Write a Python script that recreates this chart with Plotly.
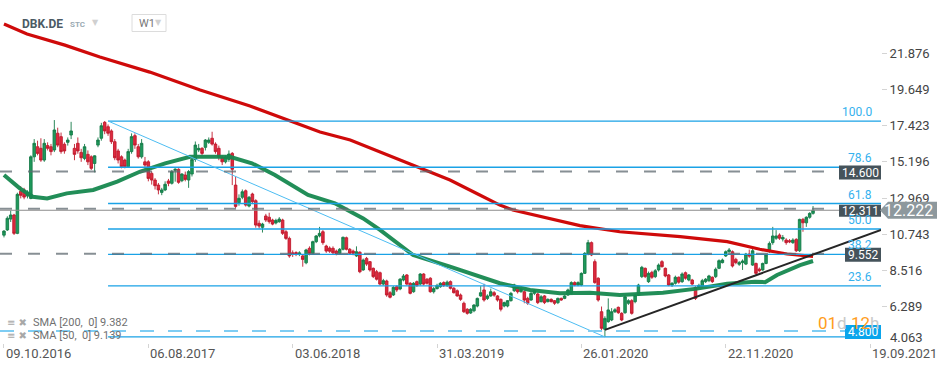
import plotly.graph_objects as go
import pandas as pd

# ---------------- data (weekly candles) ----------------
start_date = "2016-10-09"
open_ = [10.69, 11.01, 11.68, 11.93, 10.80, 13.39, 13.47, 13.10, 12.95, 15.51,
         16.13, 16.03, 15.31, 16.20, 16.13, 15.93, 16.96, 16.75, 16.28, 16.40,
         16.85, 16.03, 16.34, 15.78, 15.41, 15.66, 15.51, 15.10, 16.23, 16.65,
         17.63, 17.36, 17.10, 16.44, 15.87, 15.51, 15.31, 14.90, 15.83, 16.81,
         16.13, 15.51, 15.20, 15.20, 14.49, 14.08, 13.77, 13.32, 13.47, 14.02,
         13.88, 14.68, 14.74, 14.04, 14.39, 14.08, 14.45, 15.35, 15.93, 16.03,
         16.09, 16.40, 16.65, 16.29, 16.03, 15.48, 15.20, 15.35, 15.72, 13.77,
         12.69, 13.02, 13.42, 12.48, 13.22, 12.81, 11.42, 11.17, 11.87, 11.79,
         11.62, 11.44, 11.52, 11.62, 10.90, 10.49, 9.60, 9.62, 9.50, 9.41,
         8.99, 9.88, 9.57, 10.29, 10.64, 10.90, 10.02, 9.90, 9.88, 9.71,
         9.57, 9.82, 10.53, 9.82, 9.71, 9.41, 9.64, 8.55, 9.26, 9.06,
         8.65, 8.44, 8.38, 7.68, 7.87, 7.15, 7.01, 7.52, 7.38, 7.93,
         8.24, 7.73, 7.21, 7.83, 7.68, 8.30, 7.98, 8.04, 7.21, 7.40,
         7.52, 7.77, 7.60, 7.83, 7.42, 7.27, 7.01, 6.50, 6.13, 5.90,
         6.04, 6.33, 6.95, 7.32, 6.80, 6.95, 7.15, 6.95, 6.74, 6.33,
         6.33, 6.66, 7.27, 7.48, 7.21, 7.21, 6.80, 6.70, 7.11, 7.07,
         6.60, 6.95, 6.60, 6.74, 6.66, 6.54, 6.80, 6.80, 7.01, 7.11,
         7.77, 7.62, 7.62, 8.34, 9.53, 10.23, 9.06, 8.04, 5.98, 4.90,
         5.37, 5.47, 5.98, 6.25, 5.88, 5.92, 6.50, 6.66, 6.60, 7.01,
         8.14, 8.65, 7.83, 8.40, 8.14, 8.55, 9.06, 8.65, 8.24, 7.62,
         7.73, 8.10, 7.83, 8.38, 7.93, 7.93, 7.48, 7.50, 7.56, 7.83,
         7.89, 8.10, 8.14, 8.65, 9.00, 9.41, 9.67, 9.67, 9.20, 8.90,
         9.00, 8.91, 9.53, 8.85, 8.95, 8.60, 8.55, 8.95, 9.67, 10.23,
         10.50, 10.70, 10.45, 10.39, 10.35, 10.23, 10.43, 9.73, 11.66, 11.45,
         11.79, 12.03]
high = [11.00, 11.85, 12.20, 12.00, 13.30, 13.70, 13.60, 13.45, 15.60, 16.60,
        16.50, 16.65, 16.60, 16.40, 16.30, 17.77, 17.30, 17.00, 16.40, 16.70,
        17.66, 16.30, 16.70, 16.00, 16.30, 15.90, 15.60, 15.60, 16.70, 17.60,
        17.71, 17.50, 17.20, 16.60, 16.00, 15.60, 15.40, 16.00, 16.95, 16.95,
        16.30, 16.60, 15.50, 15.30, 14.60, 14.20, 13.90, 13.60, 14.00, 14.15,
        14.70, 14.80, 14.80, 14.50, 14.60, 14.70, 15.45, 16.45, 16.30, 16.10,
        16.60, 16.70, 17.05, 16.40, 16.20, 15.60, 15.60, 15.90, 15.80, 14.30,
        13.20, 13.50, 13.50, 13.10, 13.30, 12.90, 11.60, 11.45, 12.00, 12.07,
        11.70, 11.70, 11.80, 11.70, 11.00, 10.60, 9.75, 9.70, 9.70, 9.50,
        9.85, 10.00, 10.35, 10.70, 11.20, 11.00, 10.10, 10.00, 10.00, 9.80,
        9.90, 10.60, 10.60, 9.90, 9.80, 10.00, 9.70, 9.25, 9.35, 9.10,
        8.70, 8.55, 8.45, 8.00, 7.95, 7.25, 7.55, 7.60, 8.05, 8.30,
        8.30, 7.80, 7.80, 7.90, 8.35, 8.35, 8.05, 8.10, 7.50, 7.70,
        7.80, 7.85, 7.90, 7.90, 7.50, 7.35, 7.10, 6.60, 6.20, 6.20,
        6.45, 6.85, 7.55, 7.70, 7.05, 7.40, 7.25, 7.00, 6.80, 6.60,
        6.70, 7.20, 7.70, 7.55, 7.45, 7.30, 6.90, 7.20, 7.35, 7.15,
        7.00, 7.00, 6.80, 6.80, 6.70, 6.85, 6.85, 7.00, 7.40, 7.85,
        7.85, 7.85, 8.40, 9.65, 10.40, 10.30, 9.20, 8.10, 6.30, 5.70,
        6.80, 6.20, 6.20, 6.30, 5.95, 7.00, 6.75, 6.75, 7.10, 7.70,
        8.80, 8.70, 8.45, 8.50, 8.60, 8.95, 9.15, 8.70, 8.30, 7.80,
        8.20, 8.15, 8.40, 8.45, 8.30, 8.00, 7.55, 7.70, 8.00, 8.05,
        8.25, 8.15, 8.70, 9.20, 9.25, 9.75, 9.90, 9.75, 9.30, 9.10,
        9.20, 9.60, 9.80, 9.85, 9.00, 8.70, 9.00, 9.55, 10.30, 11.20,
        11.00, 10.80, 10.70, 10.50, 10.45, 10.50, 10.50, 11.70, 11.75, 11.85,
        12.10, 12.48]
low = [10.55, 10.95, 11.50, 10.70, 10.75, 12.95, 12.90, 12.95, 12.90, 15.20,
       15.60, 15.20, 15.20, 15.90, 15.60, 15.80, 16.10, 15.70, 15.70, 16.20,
       16.60, 15.30, 15.70, 15.20, 15.30, 15.00, 14.70, 14.55, 16.10, 16.50,
       16.90, 16.80, 16.30, 15.30, 15.10, 14.80, 14.80, 14.85, 15.70, 16.00,
       15.40, 15.40, 14.80, 14.00, 13.80, 13.50, 13.20, 13.15, 13.40, 13.70,
       13.80, 13.98, 13.85, 13.95, 14.00, 13.60, 14.30, 15.20, 15.80, 15.60,
       15.90, 16.30, 16.20, 15.70, 15.30, 15.00, 15.10, 15.20, 13.77, 12.35,
       12.50, 12.90, 12.45, 12.40, 12.60, 11.15, 11.10, 10.85, 11.50, 11.40,
       11.30, 11.35, 11.45, 10.70, 10.40, 9.30, 9.35, 9.40, 9.40, 8.75,
       8.90, 9.45, 9.50, 10.20, 10.55, 10.10, 9.60, 9.60, 9.50, 9.45,
       9.50, 9.75, 9.75, 9.50, 9.45, 9.35, 8.35, 8.50, 8.80, 8.45,
       8.05, 7.90, 7.60, 7.60, 6.90, 6.80, 6.95, 7.20, 7.30, 7.85,
       7.60, 7.05, 7.15, 7.50, 7.60, 7.60, 7.65, 7.15, 7.10, 7.35,
       7.45, 7.50, 7.50, 7.35, 7.10, 6.90, 6.65, 5.90, 5.80, 5.85,
       5.95, 6.25, 6.90, 6.60, 6.70, 6.90, 6.90, 6.60, 6.00, 6.25,
       6.25, 6.60, 7.20, 7.10, 7.15, 6.50, 6.40, 6.65, 7.00, 6.45,
       6.55, 6.45, 6.55, 6.55, 6.40, 6.45, 6.65, 6.75, 6.95, 7.05,
       7.55, 7.55, 7.55, 8.30, 9.45, 9.40, 7.70, 6.60, 4.75, 4.44,
       5.30, 5.40, 5.90, 5.85, 5.40, 5.85, 6.40, 5.80, 6.50, 6.95,
       8.05, 8.05, 7.75, 8.00, 8.05, 8.45, 8.70, 8.10, 7.55, 7.50,
       7.65, 7.70, 7.75, 7.95, 7.85, 7.60, 6.70, 7.40, 7.50, 7.75,
       7.80, 7.75, 8.05, 8.60, 8.95, 9.35, 9.60, 8.70, 8.90, 8.80,
       8.55, 8.85, 9.30, 8.80, 8.25, 8.40, 8.50, 8.90, 9.60, 10.10,
       10.40, 10.40, 10.30, 10.10, 10.20, 10.15, 9.65, 9.65, 10.90, 11.20,
       11.70, 11.95]
close = [10.94, 11.73, 11.93, 10.80, 13.20, 13.14, 13.03, 13.32, 15.51, 16.34,
         15.72, 15.31, 16.34, 16.03, 15.83, 17.16, 16.23, 15.83, 15.87, 16.54,
         17.10, 15.66, 15.87, 15.45, 16.13, 15.20, 14.80, 15.57, 16.54, 17.42,
         17.10, 16.96, 16.44, 15.45, 15.31, 14.90, 14.90, 15.83, 16.75, 16.23,
         15.51, 16.34, 15.00, 14.18, 14.08, 13.73, 13.47, 13.47, 13.82, 13.88,
         14.60, 14.74, 13.94, 14.45, 14.12, 14.60, 15.35, 16.23, 16.03, 15.72,
         16.54, 16.54, 16.29, 15.83, 15.48, 15.20, 15.50, 15.68, 14.74, 12.46,
         12.96, 13.36, 12.54, 13.02, 12.75, 11.31, 11.25, 11.37, 11.62, 11.52,
         11.37, 11.60, 11.68, 10.80, 10.49, 9.41, 9.50, 9.50, 9.60, 9.20,
         9.78, 9.57, 10.29, 10.64, 10.80, 10.23, 9.71, 9.70, 9.60, 9.51,
         9.82, 10.56, 9.82, 9.57, 9.57, 9.67, 8.44, 9.16, 8.91, 8.55,
         8.14, 7.98, 7.68, 7.89, 7.01, 6.87, 7.48, 7.32, 7.98, 8.18,
         7.68, 7.11, 7.73, 7.60, 8.30, 7.68, 7.73, 7.21, 7.40, 7.60,
         7.73, 7.60, 7.80, 7.42, 7.15, 6.95, 6.74, 5.98, 5.88, 6.13,
         6.39, 6.80, 7.15, 6.70, 6.95, 7.21, 7.00, 6.70, 6.13, 6.54,
         6.66, 7.11, 7.62, 7.21, 7.36, 6.70, 6.50, 7.11, 7.27, 6.54,
         6.90, 6.54, 6.74, 6.60, 6.50, 6.80, 6.70, 6.95, 7.32, 7.77,
         7.62, 7.77, 8.34, 9.57, 10.23, 9.47, 7.77, 6.70, 4.96, 5.57,
         6.09, 5.98, 6.10, 5.92, 5.47, 6.90, 6.66, 5.88, 7.01, 7.62,
         8.71, 8.14, 8.34, 8.10, 8.50, 8.85, 8.75, 8.18, 7.62, 7.73,
         8.10, 7.80, 8.30, 8.04, 8.24, 7.68, 6.80, 7.60, 7.89, 7.98,
         8.18, 7.83, 8.59, 9.12, 9.16, 9.67, 9.78, 8.79, 9.00, 9.00,
         9.10, 9.53, 9.40, 9.73, 8.34, 8.50, 8.95, 9.47, 10.18, 10.64,
         10.64, 10.50, 10.55, 10.23, 10.28, 10.39, 9.73, 11.66, 11.45, 11.79,
         12.03, 12.22]

sma200_dates = ["2016-10-09", "2016-11-26", "2017-02-13", "2017-04-27", "2017-08-09",
                "2017-11-22", "2018-03-06", "2018-05-28", "2018-07-30", "2018-10-01",
                "2019-01-13", "2019-02-17", "2019-04-27", "2019-06-28", "2019-08-09",
                "2019-09-05", "2019-11-21", "2020-01-23", "2020-04-15", "2020-08-19",
                "2020-11-25", "2021-02-01", "2021-03-30", "2021-05-23"]
sma200_vals = [23.68, 23.06, 22.38, 21.65, 20.72, 19.62, 18.63, 17.71, 17.03, 16.54,
               15.31, 14.86, 14.08, 13.16, 12.54, 12.24, 11.72, 11.28, 10.90, 10.60,
               10.29, 9.82, 9.53, 9.38]
sma50_dates = ["2016-10-09", "2016-11-11", "2016-12-08", "2017-01-07", "2017-02-17",
               "2017-04-13", "2017-06-02", "2017-07-19", "2017-09-10", "2017-11-01",
               "2018-01-23", "2018-03-10", "2018-04-27", "2018-06-14", "2018-07-05",
               "2018-08-30", "2018-10-28", "2018-12-02", "2019-01-13", "2019-02-09",
               "2019-04-27", "2019-06-29", "2019-08-09", "2019-10-11", "2019-12-12",
               "2020-02-13", "2020-04-15", "2020-07-14", "2020-09-23", "2020-11-25",
               "2021-01-22", "2021-02-12", "2021-03-09", "2021-04-26", "2021-05-23"]
sma50_vals = [14.39, 13.57, 13.05, 12.95, 13.26, 13.47, 13.98, 14.59, 15.11, 15.51,
              15.51, 15.11, 14.39, 13.57, 13.16, 12.65, 11.72, 11.01, 10.08, 9.47,
              8.75, 8.13, 7.73, 7.32, 7.11, 7.15, 7.01, 7.15, 7.40, 7.70,
              7.83, 7.80, 8.24, 8.85, 9.10]

fib_start_date = "2017-05-14"
fib_end_date = "2020-03-15"
fib_high = 17.71
fib_low = 4.43
fib_ratios = [0.0, 0.236, 0.382, 0.5, 0.618, 0.786, 1.0]
fib_labels = ["", "23.6", "38.2", "50.0", "61.8", "78.6", "100.0"]

trend_start = ("2020-03-15", 4.86)
trend_end = ("2021-10-11 17:00", 11.01)

level_lines = [14.600, 12.311, 9.552]
level_texts = ["14.600", "12.311", "9.552"]
low_level = 4.800
last_price = 12.222
sma200_last = 9.382
sma50_last = 9.139

ytick_vals = [6.289, 8.516, 10.743, 12.969, 15.196, 17.423, 19.649, 21.876]
ytick_text = ["6.289", "8.516", "10.743", "12.969", "15.196", "17.423", "19.649", "21.876"]
xtick_vals = ["2016-10-09", "2017-08-06", "2018-06-03", "2019-03-31",
              "2020-01-26", "2020-11-22", "2021-09-19"]
xtick_text = ["09.10.2016", "06.08.2017", "03.06.2018", "31.03.2019",
              "26.01.2020", "22.11.2020", "19.09.2021"]

x_range = ["2016-09-30 17:00", "2021-10-11 17:00"]
y_range = [4.056, 25.155]

# ---------------- layout helpers ----------------
W_PLOT, H_PLOT = 881, 343
def px(q):
    return q / W_PLOT
def py(p):
    return 1 - p / H_PLOT

FONT = "Roboto"
dates = pd.date_range(start_date, periods=len(close), freq="7D")

fig = go.Figure()
fig.add_trace(go.Candlestick(
    x=dates, open=open_, high=high, low=low, close=close,
    increasing=dict(fillcolor="#1e9a5b", line=dict(color="#157a47", width=0.9)),
    decreasing=dict(fillcolor="#de2a3e", line=dict(color="#bf1a2d", width=0.9)),
    whiskerwidth=0, showlegend=False, hoverinfo="skip"))
fig.add_trace(go.Scatter(x=sma200_dates, y=sma200_vals, mode="lines",
                         line=dict(color="#cf0a0a", width=3.2), showlegend=False, hoverinfo="skip"))
fig.add_trace(go.Scatter(x=sma50_dates, y=sma50_vals, mode="lines",
                         line=dict(color="#16884f", width=4), opacity=0.95,
                         showlegend=False, hoverinfo="skip"))

shapes = []
annos = []

# fibonacci retracement
for r, lab in zip(fib_ratios, fib_labels):
    lvl = fib_low + r * (fib_high - fib_low)
    shapes.append(dict(type="line", xref="x", yref="y", x0=fib_start_date, x1=x_range[1],
                       y0=lvl, y1=lvl, line=dict(color="#1aa2e6", width=1.3)))
    if lab:
        annos.append(dict(x=px(874), xref="paper", y=lvl, yref="y", text=lab,
                          xanchor="right", yanchor="bottom", yshift=0, showarrow=False,
                          font=dict(family=FONT, size=12, color="#35b1ee")))
shapes.append(dict(type="line", xref="x", yref="y", x0=fib_start_date, y0=fib_high,
                   x1=fib_end_date, y1=fib_low, line=dict(color="#4dbdf2", width=1)))

# dashed horizontal levels
for lvl in level_lines:
    shapes.append(dict(type="line", xref="paper", yref="y", x0=0, x1=px(839), y0=lvl, y1=lvl,
                       line=dict(color="rgba(95,105,112,0.75)", width=2, dash="12px,16px")))
shapes.append(dict(type="line", xref="paper", yref="y", x0=0, x1=px(845), y0=low_level, y1=low_level,
                   line=dict(color="#7fcdf3", width=2, dash="14px,14px")))
# last price line
shapes.append(dict(type="line", xref="paper", yref="y", x0=0, x1=1, y0=last_price, y1=last_price,
                   line=dict(color="#8c8c8c", width=1)))
# trend line
shapes.append(dict(type="line", xref="x", yref="y", x0=trend_start[0], y0=trend_start[1],
                   x1=trend_end[0], y1=trend_end[1], line=dict(color="#262626", width=2)))

# level boxes
box_specs = [(level_lines[0], level_texts[0], 42, -8, 6, "#45535b"),
             (level_lines[1], level_texts[1], 42, -8, 4, "#45535b"),
             (level_lines[2], level_texts[2], 36, -8, 6, "#45535b"),
             (low_level, "4.800", 36, -8, 6, "#0aa5ec")]
for lvl, txt, w, y0, y1, col in box_specs:
    shapes.append(dict(type="rect", xref="paper", yref="y", xsizemode="pixel", ysizemode="pixel",
                       xanchor=1, yanchor=lvl, x0=-w, x1=0, y0=y0, y1=y1,
                       fillcolor=col, line=dict(width=0), layer="above"))
    annos.append(dict(x=px(881 - w / 2), xref="paper", y=lvl, yref="y", text=txt,
                      xanchor="center", yanchor="middle", yshift=(y0 + y1) / 2, showarrow=False,
                      font=dict(family=FONT, size=12, color="white")))

# last price tag
shapes.append(dict(type="path", xref="paper", yref="y", xsizemode="pixel", ysizemode="pixel",
                   xanchor=1, yanchor=last_price,
                   path="M -1,0 L 7,8.5 L 56,8.5 L 56,-8.5 L 7,-8.5 Z",
                   fillcolor="#8d989d", line=dict(width=0), layer="above"))
annos.append(dict(x=px(908), xref="paper", y=last_price, yref="y", text="12.222",
                  xanchor="center", yanchor="middle", showarrow=False,
                  font=dict(family=FONT, size=16, color="white")))

# countdown
annos.append(dict(x=1, xref="paper", y=py(323), yref="paper",
                  text="01<span style='color:#c9c9c9'>d</span> 12<span style='color:#c9c9c9'>h</span>",
                  xanchor="right", yanchor="middle", showarrow=False,
                  font=dict(family=FONT, size=17, color="#ff9d1c")))

# x date labels
for d, t in zip(xtick_vals, xtick_text):
    annos.append(dict(x=d, xref="x", y=0, yref="paper", text=t, xanchor="left", yanchor="top",
                      xshift=0, yshift=-1, showarrow=False,
                      font=dict(family=FONT, size=13, color="#555555")))
annos.append(dict(x=1, xref="paper", y=py(337.7), yref="paper", text="4.063", xanchor="left",
                  yanchor="middle", xshift=7, showarrow=False,
                  font=dict(family=FONT, size=13, color="#444444")))

# indicator legend
for yy, txt in [(322, "SMA [200,\u00a0 0] " + f"{sma200_last:.3f}"),
                (335, "SMA [50,\u00a0 0] " + f"{sma50_last:.3f}")]:
    annos.append(dict(x=px(5), xref="paper", y=py(yy), yref="paper", text="\u2261 \u2716",
                      xanchor="left", yanchor="middle", showarrow=False,
                      font=dict(family="DejaVu Sans", size=10, color="#a8a8a8")))
    annos.append(dict(x=px(31), xref="paper", y=py(yy), yref="paper", text=txt,
                      xanchor="left", yanchor="middle", showarrow=False,
                      font=dict(family=FONT, size=11, color="#707070")))

# header
annos.append(dict(x=px(20), xref="paper", y=py(24), yref="paper", text="<b>DBK.DE</b>",
                  xanchor="left", yanchor="middle", showarrow=False,
                  font=dict(family=FONT, size=12, color="#4b5a64")))
annos.append(dict(x=px(68), xref="paper", y=py(24.5), yref="paper", text="<b>STC</b>",
                  xanchor="left", yanchor="middle", showarrow=False,
                  font=dict(family=FONT, size=8, color="#9aaab3")))
annos.append(dict(x=px(95), xref="paper", y=py(22.5), yref="paper", text="\u25bc",
                  xanchor="center", yanchor="middle", showarrow=False,
                  font=dict(family="DejaVu Sans", size=8, color="#d0d0d0")))
shapes.append(dict(type="rect", xref="paper", yref="paper", x0=px(132), x1=px(166),
                   y0=py(31.5), y1=py(14.5), line=dict(color="#dcdcdc", width=1),
                   fillcolor="white", layer="above"))
annos.append(dict(x=px(137), xref="paper", y=py(23.5), yref="paper", text="W1",
                  xanchor="left", yanchor="middle", showarrow=False,
                  font=dict(family=FONT, size=11, color="#777777")))
annos.append(dict(x=px(158), xref="paper", y=py(22.5), yref="paper", text="\u25bc",
                  xanchor="center", yanchor="middle", showarrow=False,
                  font=dict(family="DejaVu Sans", size=8, color="#d0d0d0")))

fig.update_layout(
    width=950, height=368,
    margin=dict(l=0, r=950 - W_PLOT, t=0, b=368 - H_PLOT, pad=0),
    paper_bgcolor="white", plot_bgcolor="white",
    shapes=shapes, annotations=annos,
    showlegend=False,
    boxgap=0.2, boxgroupgap=0.05,
    xaxis=dict(type="date", range=x_range, showgrid=False, zeroline=False, showline=False,
               rangeslider=dict(visible=False), tickvals=xtick_vals, ticks="outside",
               ticklen=4, tickcolor="#d4d4d4", showticklabels=False, fixedrange=True,
               automargin=False),
    yaxis=dict(side="right", range=y_range, showgrid=False, zeroline=False, showline=False,
               tickvals=ytick_vals, ticktext=ytick_text, ticks="outside", ticklen=5,
               tickcolor="#d4d4d4", tickfont=dict(family=FONT, size=13, color="#444444"),
               fixedrange=True, automargin=False),
    font=dict(family=FONT),
)

fig.write_html("out.html", config={"displayModeBar": False, "staticPlot": True},
               post_script="document.body.style.margin='0';document.body.style.overflow='hidden';")
